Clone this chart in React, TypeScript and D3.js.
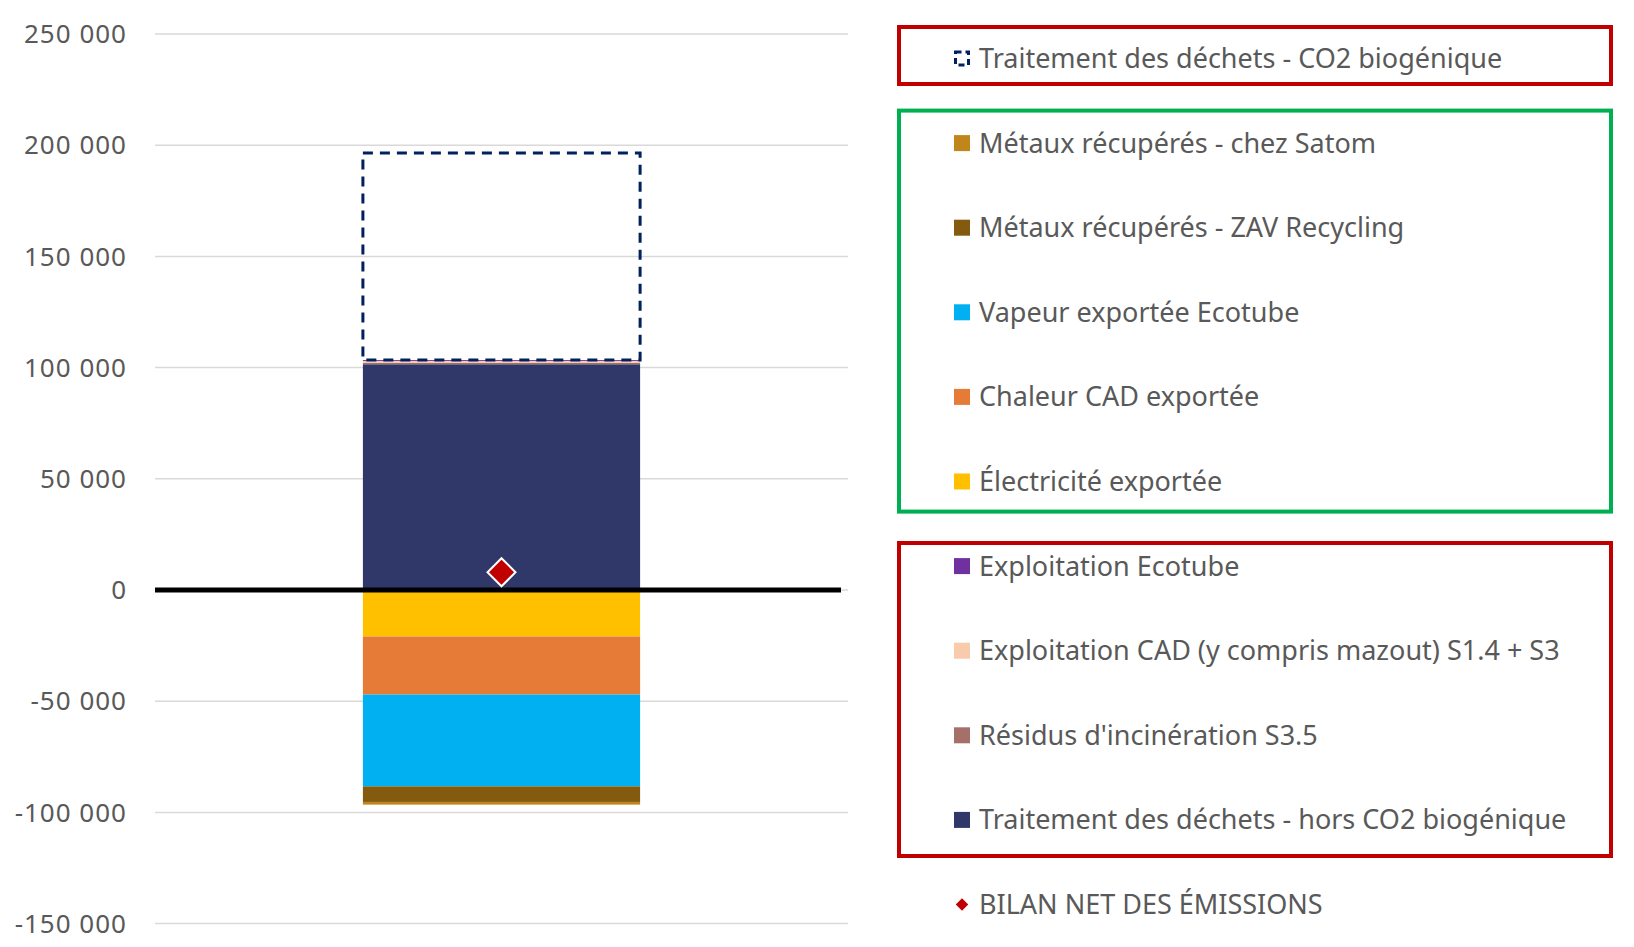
import * as d3 from 'd3'

// series in stacking order (positive upward, negative downward)
const seriesNames = [
  'Traitement des déchets - hors CO2 biogénique',
  "Résidus d'incinération S3.5",
  'Exploitation CAD (y compris mazout) S1.4 + S3',
  'Exploitation Ecotube',
  'Traitement des déchets - CO2 biogénique',
  'Électricité exportée',
  'Chaleur CAD exportée',
  'Vapeur exportée Ecotube',
  'Métaux récupérés - ZAV Recycling',
  'Métaux récupérés - chez Satom',
]
const seriesValues = [101500, 700, 800, 400, 93100, -20900, -26100, -41300, -7000, -1200]
const seriesColors = [
  '#303769', '#A5706A', '#F8CBAD', '#7030A0', 'none',
  '#FFC000', '#E67B38', '#00B0F0', '#835A0E', '#C0861A',
]
const netLabel = 'BILAN NET DES ÉMISSIONS'
const netValue = 8000

// legend entries, top to bottom
const legendOrder = [
  'Traitement des déchets - CO2 biogénique',
  'Métaux récupérés - chez Satom',
  'Métaux récupérés - ZAV Recycling',
  'Vapeur exportée Ecotube',
  'Chaleur CAD exportée',
  'Électricité exportée',
  'Exploitation Ecotube',
  'Exploitation CAD (y compris mazout) S1.4 + S3',
  "Résidus d'incinération S3.5",
  'Traitement des déchets - hors CO2 biogénique',
  netLabel,
]

const yTicks = [-150000, -100000, -50000, 0, 50000, 100000, 150000, 200000, 250000]
const category = ['2023']

const locale = d3.formatLocale({ decimal: ',', thousands: ' ', grouping: [3], currency: ['', ''], minus: '-' })
const fmt = locale.format(',')

const FONT = "'Noto Sans', sans-serif"
const TEXT = '#595959'
const BIO = 'Traitement des déchets - CO2 biogénique'

// frames drawn around legend groups
const legendFrames = [
  { y: 27, h: 57, color: '#C00000' },
  { y: 110.6, h: 401, color: '#00B050' },
  { y: 543, h: 313, color: '#C00000' },
]

export default function App() {
  const left = 155
  const right = 848
  const y = d3.scaleLinear().domain([-150000, 250000]).range([923.6, 34])
  const x = d3.scaleBand().domain(category).range([left, right]).paddingInner(0).paddingOuter(0.75)

  const row: Record<string, number> = {}
  seriesNames.forEach((n, i) => (row[n] = seriesValues[i]))
  const stacked = d3.stack<Record<string, number>>().keys(seriesNames).offset(d3.stackOffsetDiverging)([row])

  const bx = x(category[0]) ?? 0
  const bw = x.bandwidth()

  const legX = 954
  const legY0 = 58.5
  const legStep = 84.6
  const sw = 16

  return (
    <svg width={1626} height={939} style={{ display: 'block' }}>
      <g transform="translate(-8,-8)">
        {yTicks.map((t) => (
          <g key={t}>
            <line x1={left} x2={right} y1={y(t)} y2={y(t)} stroke="#D9D9D9" strokeWidth={1.5} />
            <text x={127} y={y(t)} dy="0.35em" textAnchor="end" fontFamily={FONT} fontSize={26}
              letterSpacing={1} fill={TEXT}>
              {fmt(t)}
            </text>
          </g>
        ))}

        {stacked.map((s, i) => {
          const d = s[0]
          const y0 = y(Math.max(d[0], d[1]))
          const y1 = y(Math.min(d[0], d[1]))
          if (s.key === BIO) {
            return (
              <rect key={s.key} x={bx} y={y0} width={bw} height={y1 - y0} fill="none"
                stroke="#002060" strokeWidth={3} strokeDasharray="10 7" />
            )
          }
          return <rect key={s.key} x={bx} y={y0} width={bw} height={y1 - y0} fill={seriesColors[i]} />
        })}

        <line x1={left} x2={841} y1={y(0)} y2={y(0)} stroke="#000" strokeWidth={5} />

        <path
          d={d3.symbol(d3.symbolDiamond2, 500)() ?? ''}
          transform={`translate(${bx + bw / 2},${y(netValue)})`}
          fill="#C00000" stroke="#fff" strokeWidth={2}
        />

        {legendFrames.map((b, i) => (
          <rect key={i} x={899} y={b.y} width={712} height={b.h} fill="none" stroke={b.color} strokeWidth={4} />
        ))}

        {legendOrder.map((name, i) => {
          const cy = legY0 + i * legStep
          const idx = seriesNames.indexOf(name)
          let marker
          if (name === netLabel) {
            marker = (
              <path d={d3.symbol(d3.symbolDiamond2, 100)() ?? ''} transform={`translate(${legX + sw / 2},${cy})`} fill="#C00000" />
            )
          } else if (name === BIO) {
            marker = (
              <rect x={legX + 1.5} y={cy - sw / 2 + 1.5} width={sw - 3} height={sw - 3} fill="none"
                stroke="#002060" strokeWidth={3} strokeDasharray="6 4" />
            )
          } else {
            marker = <rect x={legX} y={cy - sw / 2} width={sw} height={sw} fill={seriesColors[idx]} />
          }
          return (
            <g key={name}>
              {marker}
              <text x={979} y={cy} dy="0.35em" fontFamily={FONT} fontSize={27} fill={TEXT}>
                {name}
              </text>
            </g>
          )
        })}
      </g>
    </svg>
  )
}
